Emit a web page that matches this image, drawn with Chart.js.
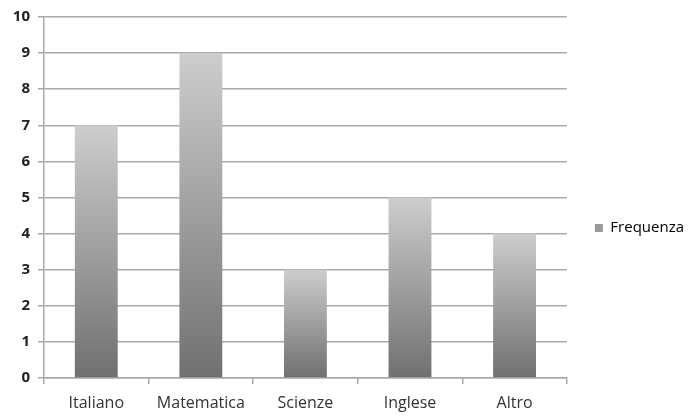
<!DOCTYPE html>
<html>
<head>
<meta charset="utf-8">
<script src="https://cdn.jsdelivr.net/npm/chart.js@4"></script>
<style>
  html, body { margin: 0; padding: 0; background: #fff; }
  #wrap { width: 692px; height: 416px; }
</style>
</head>
<body>
<div id="wrap"><canvas id="chart"></canvas></div>
<script>
// Chart data
const categories = ["Italiano", "Matematica", "Scienze", "Inglese", "Altro"];
const frequenza = [7, 9, 3, 5, 4];
const yTicks = [0, 1, 2, 3, 4, 5, 6, 7, 8, 9, 10];

// Vertical gradient per bar: light at the top, dark at the base
function barFill(ctx) {
  if (ctx.type !== "data") return "#9a9a9a";
  const chart = ctx.chart;
  const y = chart.scales.y;
  if (!chart.chartArea || !y) return "#9a9a9a";
  const top = y.getPixelForValue(ctx.raw);
  const base = y.getPixelForValue(0);
  const g = chart.ctx.createLinearGradient(0, top, 0, base);
  g.addColorStop(0, "#cdcdcd");
  g.addColorStop(1, "#707070");
  return g;
}

const gridGray = "#a9a9a9";

// nudge the legend box to where it sits in the original
const legendNudge = {
  id: "legendNudge",
  afterLayout(chart) {
    const lg = chart.legend;
    if (!lg) return;
    lg.left += 18; lg.right += 18;
    lg.top += 15; lg.bottom += 15;
  },
};

new Chart(document.getElementById("chart"), {
  type: "bar",
  data: {
    labels: categories,
    datasets: [
      {
        label: "Frequenza",
        data: frequenza,
        backgroundColor: barFill,
        borderWidth: 0,
        categoryPercentage: 1,
        barPercentage: 0.41,
      },
    ],
  },
  plugins: [legendNudge],
  options: {
    responsive: true,
    maintainAspectRatio: false,
    animation: false,
    layout: { padding: { top: 10, right: 16, left: 0, bottom: 0 } },
    plugins: {
      tooltip: { enabled: false },
      legend: {
        position: "right",
        labels: {
          boxWidth: 8,
          boxHeight: 8,
          padding: 10,
          color: "#3a3530",
          font: { family: "Open Sans", size: 15 },
          generateLabels: (chart) => [
            {
              text: "Frequenza",
              fillStyle: "#9a9a9a",
              strokeStyle: "#9a9a9a",
              lineWidth: 0,
              datasetIndex: 0,
            },
          ],
        },
      },
    },
    scales: {
      x: {
        grid: {
          drawOnChartArea: false,
          drawTicks: true,
          tickLength: 6,
          color: gridGray,
          lineWidth: 1.5,
        },
        border: { color: gridGray, width: 1.5 },
        ticks: {
          color: "#333",
          font: { family: "Open Sans", size: 16 },
          padding: 10,
        },
        afterFit: (scale) => { scale.height = 38; },
      },
      y: {
        min: 0,
        max: 10,
        afterBuildTicks: (scale) => {
          scale.ticks = yTicks.map((v) => ({ value: v }));
        },
        grid: {
          color: gridGray,
          lineWidth: 1.5,
          tickLength: 6,
        },
        border: { color: gridGray, width: 1.5 },
        ticks: {
          color: "#222",
          font: { family: "Open Sans", size: 15, weight: "bold" },
          padding: 8,
        },
        afterFit: (scale) => { scale.width = 44; },
      },
    },
  },
});
</script>
</body>
</html>
